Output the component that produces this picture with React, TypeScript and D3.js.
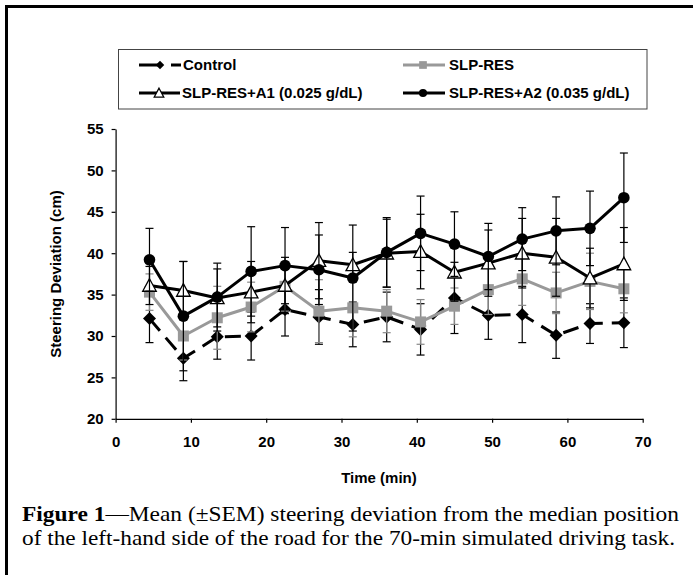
import React, { useEffect, useRef } from "react";
import * as d3 from "d3";

// time points (min)
const times = [4.5, 9, 13.5, 18, 22.5, 27, 31.5, 36, 40.5, 45, 49.5, 54, 58.5, 63, 67.5];

const controlMean = [32.1, 27.3, 29.9, 30.0, 33.2, 32.3, 31.4, 32.3, 30.8, 34.6, 32.5, 32.6, 30.1, 31.5, 31.6];
const controlSem = [2.9, 2.7, 2.7, 2.9, 3.2, 3.3, 2.7, 3.0, 3.1, 4.3, 2.9, 3.4, 2.8, 2.4, 3.0];

const slpMean = [35.3, 30.0, 32.2, 33.5, 36.0, 33.0, 33.4, 33.0, 31.7, 33.6, 35.6, 36.9, 35.2, 36.6, 35.7];
const slpSem = [2.2, 2.9, 3.8, 3.0, 3.0, 3.8, 3.5, 2.6, 2.7, 2.2, 3.0, 3.2, 2.5, 3.4, 2.9];

const a1Mean = [36.1, 35.5, 34.6, 35.3, 36.1, 39.1, 38.6, 40.0, 40.2, 37.7, 38.8, 40.0, 39.5, 37.0, 38.7];
const a1Sem = [2.3, 3.5, 3.5, 3.7, 3.4, 4.6, 1.5, 4.1, 4.5, 3.5, 4.0, 4.2, 4.7, 3.6, 4.4];

const a2Mean = [39.2, 32.4, 34.7, 37.8, 38.5, 38.0, 37.0, 40.1, 42.4, 41.1, 39.6, 41.7, 42.7, 43.0, 46.7];
const a2Sem = [3.8, 6.6, 4.1, 5.4, 4.6, 4.2, 6.4, 4.2, 4.5, 3.9, 4.0, 3.8, 4.1, 4.5, 5.4];

const xTicks = [0, 10, 20, 30, 40, 50, 60, 70];
const yTicks = [20, 25, 30, 35, 40, 45, 50, 55];

const seriesNames = ["Control", "SLP-RES", "SLP-RES+A1 (0.025 g/dL)", "SLP-RES+A2 (0.035 g/dL)"];

type Marker = "diamond" | "square" | "triangle" | "circle";

interface ISeries {
    name: string,
    mean: number[],
    sem: number[],
    color: string,
    errColor: string,
    dash: string | undefined,
    marker: Marker
}

const series: ISeries[] = [
    {name: seriesNames[0], mean: controlMean, sem: controlSem, color: "#000", errColor: "#000", dash: "16 9", marker: "diamond"},
    {name: seriesNames[1], mean: slpMean, sem: slpSem, color: "#999", errColor: "#888", dash: undefined, marker: "square"},
    {name: seriesNames[2], mean: a1Mean, sem: a1Sem, color: "#000", errColor: "#000", dash: undefined, marker: "triangle"},
    {name: seriesNames[3], mean: a2Mean, sem: a2Sem, color: "#000", errColor: "#000", dash: undefined, marker: "circle"},
];

const sans = "Arial, 'Liberation Sans', sans-serif";
const serif = "'Times New Roman', 'Liberation Serif', serif";

function drawMarker(kind: Marker, cx: number, cy: number, s: number, key?: string | number) {
    if (kind == "diamond") {
        const r = 6.5 * s;
        return <path key={key} d={`M${cx},${cy - r}L${cx + r},${cy}L${cx},${cy + r}L${cx - r},${cy}Z`} fill="#000" />;
    }
    if (kind == "square") {
        const h = 5.5 * s;
        return <rect key={key} x={cx - h} y={cy - h} width={h * 2} height={h * 2} fill="#999" />;
    }
    if (kind == "triangle") {
        const w = 6.8 * s;
        return <path key={key} d={`M${cx},${cy - w}L${cx + w},${cy + w * 0.85}L${cx - w},${cy + w * 0.85}Z`}
                     fill="#fff" stroke="#000" strokeWidth={1.3} />;
    }
    return <circle key={key} cx={cx} cy={cy} r={5.8 * s} fill="#000" />;
}

const App = () => {
    const xAxisRef = useRef<SVGGElement>(null);
    const yAxisRef = useRef<SVGGElement>(null);

    const x = d3.scaleLinear().domain([0, 70]).range([115.6, 642.7]);
    const y = d3.scaleLinear().domain([20, 55]).range([418.8, 129]);

    useEffect(() => {
        const xAxis = d3.axisBottom(x).tickValues(xTicks).tickSize(4).tickSizeOuter(0).tickPadding(14)
            .tickFormat(d3.format("d"));
        const yAxis = d3.axisLeft(y).tickValues(yTicks).tickSize(4).tickSizeOuter(0).tickPadding(8)
            .tickFormat(d3.format("d"));

        const gx = d3.select(xAxisRef.current!).call(xAxis as any);
        const gy = d3.select(yAxisRef.current!).call(yAxis as any);
        for (const g of [gx, gy]) {
            g.selectAll("path, line").attr("stroke", "#000").attr("stroke-width", 1.2);
            g.selectAll("text").attr("fill", "#000").style("font-family", sans)
                .style("font-size", "15px").style("font-weight", "bold");
        }
    }, []);

    const line = d3.line<number>().x((_, i) => x(times[i])).y(d => y(d));

    return (
        <svg width={693} height={575} style={{position: "absolute", left: 0, top: 0, background: "#fff"}}>
            <rect x={0} y={0} width={693} height={575} fill="#fff" />
            <path d="M6.5,600V6.5H700" fill="none" stroke="#000" strokeWidth={3} />

            {/* legend */}
            <rect x={118.5} y={49.5} width={528.5} height={59.5} fill="#fff" stroke="#444" strokeWidth={1} />
            <g fontFamily={sans} fontSize={15} fontWeight="bold">
                <line x1={139} x2={181} y1={65} y2={65} stroke="#000" strokeWidth={3} strokeDasharray="20 12" />
                {drawMarker("diamond", 160, 65, 0.65)}
                <text x={183} y={65} dy="0.36em">{seriesNames[0]}</text>

                <line x1={403} x2={445} y1={65} y2={65} stroke="#999" strokeWidth={3} />
                {drawMarker("square", 423, 65, 0.7)}
                <text x={449} y={65} dy="0.36em">{seriesNames[1]}</text>

                <line x1={139} x2={180} y1={93} y2={93} stroke="#000" strokeWidth={3} />
                {drawMarker("triangle", 159, 93, 0.7)}
                <text x={182} y={93} dy="0.36em">{seriesNames[2]}</text>

                <line x1={403} x2={445} y1={93} y2={93} stroke="#000" strokeWidth={3} />
                {drawMarker("circle", 423, 93, 0.7)}
                <text x={449} y={93} dy="0.36em">{seriesNames[3]}</text>
            </g>

            <g ref={yAxisRef} transform="translate(115.6,0)" />
            <g ref={xAxisRef} transform="translate(0,418.8)" />

            {series.map((s, si) => (
                <g key={si}>
                    {s.mean.map((m, i) => {
                        const cx = x(times[i]);
                        const top = y(m + s.sem[i]);
                        const bot = y(m - s.sem[i]);
                        return (
                            <g key={i} stroke={s.errColor} strokeWidth={1.2}>
                                <line x1={cx} x2={cx} y1={top} y2={bot} />
                                <line x1={cx - 4} x2={cx + 4} y1={top} y2={top} />
                                <line x1={cx - 4} x2={cx + 4} y1={bot} y2={bot} />
                            </g>
                        );
                    })}
                    <path d={line(s.mean)!} fill="none" stroke={s.color} strokeWidth={3}
                          strokeDasharray={s.dash} strokeLinejoin="round" />
                    {s.mean.map((m, i) => drawMarker(s.marker, x(times[i]), y(m), 1, i))}
                </g>
            ))}

            <text x={(-274)} y={61} transform="rotate(-90)" textAnchor="middle" fontFamily={sans}
                  fontSize={15} fontWeight="bold">Steering Deviation (cm)</text>
            <text x={379} y={483} textAnchor="middle" fontFamily={sans} fontSize={15}
                  fontWeight="bold">Time (min)</text>

            <g fontFamily={serif} fontSize={21}>
                <text x={22} y={521} textLength={657} lengthAdjust="spacingAndGlyphs">
                    <tspan fontWeight="bold">Figure 1</tspan>—Mean (±SEM) steering deviation from the median position
                </text>
                <text x={22} y={545} textLength={653} lengthAdjust="spacingAndGlyphs">of the left-hand side of the road for the 70-min simulated driving task.</text>
            </g>
        </svg>
    );
};

export default App;
